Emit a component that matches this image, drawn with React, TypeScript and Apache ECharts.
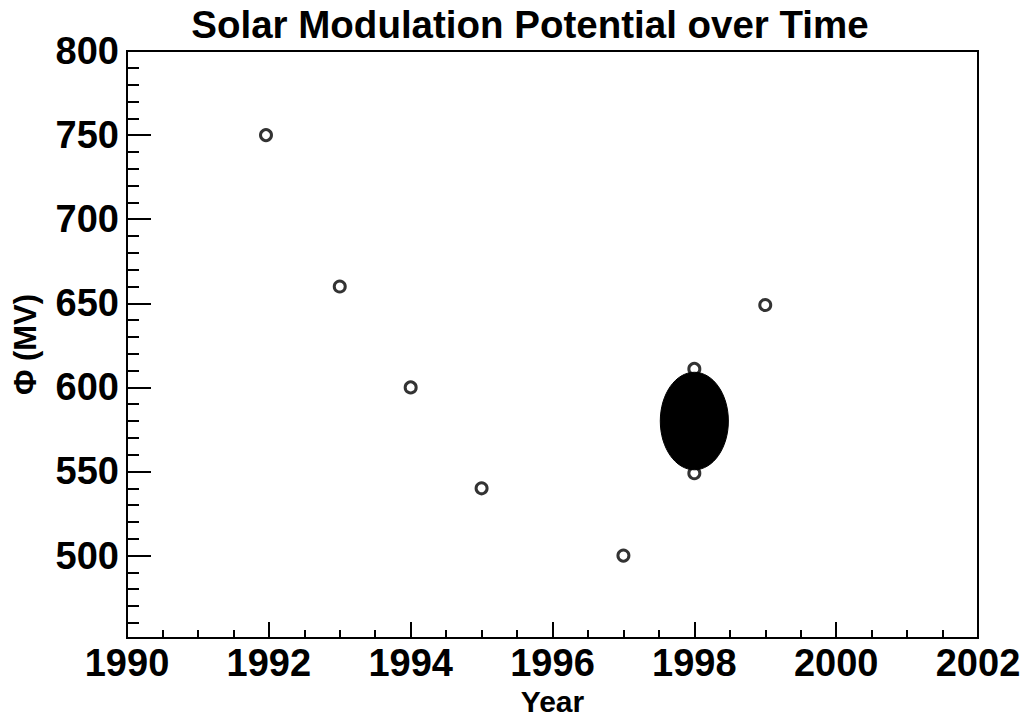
import React, { useEffect, useRef } from "react";
import * as echarts from "echarts";

const TITLE = "Solar Modulation Potential over Time";
const X_NAME = "Year";
const Y_NAME = "Φ (MV)";

// Open-circle measurements: [year, potential in MV]
const years = [1991.96, 1993, 1994, 1995, 1997, 1998, 1998, 1999];
const potentials = [750, 660, 600, 540, 500, 611, 549, 649];

// Filled ellipse: [year, potential, half-width in years, half-height in MV]
const ellipseYear = [1998];
const ellipsePotential = [580];
const ellipseHalfWidth = [0.48];
const ellipseHalfHeight = [29];

const X_MIN = 1990;
const X_MAX = 2002;
const Y_MIN = 451;
const Y_MAX = 800;

const FONT = "'Liberation Sans', Arial, Helvetica, sans-serif";

export default function App() {
  const ref = useRef<HTMLDivElement>(null);

  useEffect(() => {
    if (!ref.current) return;
    const chart = echarts.init(ref.current, null, { renderer: "svg" });

    const scatterData = years.map((y, i) => [y, potentials[i]]);
    const ellipseData = ellipseYear.map((y, i) => [
      y,
      ellipsePotential[i],
      ellipseHalfWidth[i],
      ellipseHalfHeight[i],
    ]);

    chart.setOption({
      animation: false,
      backgroundColor: "#ffffff",
      title: {
        text: TITLE,
        left: 525,
        top: 0,
        textAlign: "center",
        textStyle: {
          fontFamily: FONT,
          fontWeight: "bold",
          fontSize: 38.5,
          color: "#000",
        },
      },
      grid: {
        left: 127,
        right: 51,
        top: 51,
        bottom: 79,
        show: true,
        borderColor: "#000",
        borderWidth: 2,
        backgroundColor: "transparent",
        containLabel: false,
        outerBoundsMode: "none",
      },
      xAxis: {
        type: "value",
        min: X_MIN,
        max: X_MAX,
        interval: 2,
        name: X_NAME,
        nameLocation: "middle",
        nameGap: 39,
        nameTextStyle: {
          fontFamily: FONT,
          fontWeight: "bold",
          fontSize: 30,
          lineHeight: 30,
          color: "#000",
        },
        axisLine: { show: true, onZero: false, lineStyle: { color: "#000", width: 2 } },
        axisTick: { show: true, inside: true, length: 16, lineStyle: { color: "#000", width: 2 } },
        minorTick: { show: true, splitNumber: 4, length: 8, lineStyle: { color: "#000", width: 2 } },
        splitLine: { show: false },
        axisLabel: {
          margin: 6,
          fontFamily: FONT,
          fontWeight: "bold",
          fontSize: 38,
          color: "#000",
          formatter: (v: number) => String(Math.round(v)),
        },
      },
      yAxis: {
        type: "value",
        min: Y_MIN,
        max: Y_MAX,
        minInterval: 50,
        maxInterval: 50,
        name: Y_NAME,
        nameLocation: "middle",
        nameGap: 86,
        nameRotate: 90,
        nameTextStyle: {
          fontFamily: FONT,
          fontWeight: "bold",
          fontSize: 31,
          color: "#000",
        },
        axisLine: { show: true, onZero: false, lineStyle: { color: "#000", width: 2 } },
        axisTick: { show: true, inside: true, length: 24, lineStyle: { color: "#000", width: 2 } },
        minorTick: { show: true, splitNumber: 5, length: 12, lineStyle: { color: "#000", width: 2 } },
        splitLine: { show: false },
        axisLabel: {
          margin: 8,
          showMinLabel: false,
          fontFamily: FONT,
          fontWeight: "bold",
          fontSize: 38,
          color: "#000",
        },
      },
      series: [
        {
          type: "scatter",
          data: scatterData,
          symbol: "circle",
          symbolSize: 11,
          itemStyle: { color: "#fff", borderColor: "#000", borderWidth: 3 },
          z: 2,
        },
        {
          type: "custom",
          data: ellipseData,
          z: 3,
          renderItem: (params: any, api: any) => {
            const c = api.coord([api.value(0), api.value(1)]);
            const s = api.size([api.value(2), api.value(3)]);
            return {
              type: "ellipse",
              shape: { cx: c[0], cy: c[1], rx: s[0], ry: s[1] },
              style: { fill: "#000", stroke: "#000" },
            };
          },
        },
      ],
    });

    return () => chart.dispose();
  }, []);

  return <div ref={ref} style={{ width: 1029, height: 717, position: "absolute", left: 0, top: 0 }} />;
}
